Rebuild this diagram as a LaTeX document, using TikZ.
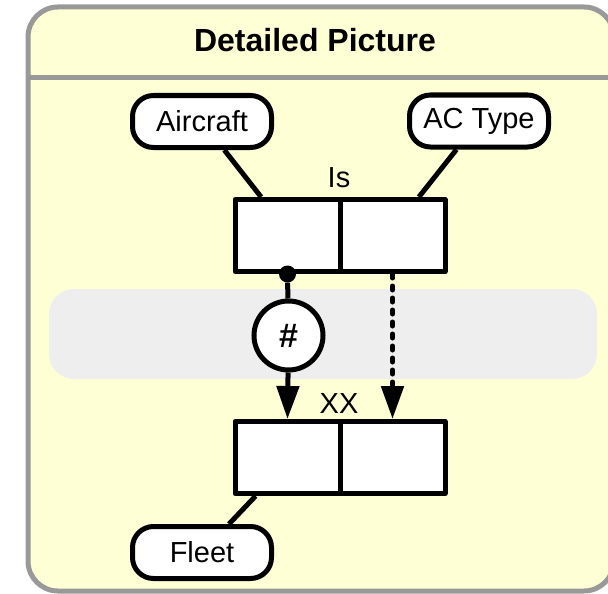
\documentclass[tikz,border=0pt]{standalone}
\usepackage{fontspec}
\setmainfont{Liberation Sans}
\usetikzlibrary{arrows.meta,calc}
\definecolor{paneyellow}{HTML}{FFFFD5}
\definecolor{framegray}{HTML}{999999}
\definecolor{bandgray}{HTML}{EEEEEE}
\tikzset{
  framestyle/.style={draw=framegray, line width=5pt},
  lbl/.style={draw, line width=5pt, fill=white, rounded corners=21pt, minimum width=139pt, minimum height=52pt, inner sep=0pt, font=\fontsize{29}{31}\selectfont},
  cell/.style={draw, line width=5pt, fill=white, minimum width=105pt, minimum height=72pt, inner sep=0pt, line join=round},
  captext/.style={inner sep=0pt, font=\fontsize{29}{31}\selectfont},
  conn/.style={line width=5pt},
  tipend/.style={-{Triangle[width=22pt,length=33pt]}},
}
\begin{document}
\begin{tikzpicture}[x=1pt,y=-1pt]
\useasboundingbox (0,0) rectangle (608,594);
\fill[white] (0,0) rectangle (608,594);
\draw[framestyle, fill=paneyellow, rounded corners=30pt] (28,7) rectangle (614,591);
\draw[framestyle] (28,77.5) -- (614,77.5);
\node[inner sep=0pt, font=\bfseries\fontsize{32}{34}\selectfont] (title) at (315,40) {Detailed Picture};
\fill[bandgray, rounded corners=25pt] (49,289) rectangle (597,379);

\node[lbl] (air) at (202,121.5) {Aircraft};
\node[lbl] (act) at (479,121) {AC Type};
\node[cell] (is1) at (287.5,235.5) {};
\node[cell] (is2) at (392.5,235.5) {};
\node[captext] (islbl) at (339,178) {Is};
\node[cell] (xx1) at (287.5,457.5) {};
\node[cell] (xx2) at (392.5,457.5) {};
\node[captext] (xxlbl) at (339,404) {XX};
\node[lbl] (fleet) at (202,552.5) {Fleet};
\node[circle, draw, line width=5pt, fill=white, minimum size=69pt, inner sep=0pt, font=\bfseries\fontsize{34}{36}\selectfont] (hash) at (288.5,335.5) {\#};
\node[circle, fill, minimum size=17pt, inner sep=0pt] (dot) at (is1.south) {};

\coordinate (airend) at ($(is1.north west)!0.26!(is1.north east)$);
\coordinate (actend) at ($(is2.north west)!0.74!(is2.north east)$);
\coordinate (fleetend) at ($(xx1.south west)!0.21!(xx1.south east)$);
\draw[conn] (air) -- (airend);
\draw[conn] (act) -- (actend);
\draw[conn] (fleet) -- (fleetend);
\draw[conn] (dot) -- (hash);
\draw[conn, tipend] (hash) -- (xx1.north);
\draw[conn, tipend, line cap=round, dash pattern=on 4pt off 8pt] (is2.south) -- (xx2.north);
\end{tikzpicture}
\end{document}
